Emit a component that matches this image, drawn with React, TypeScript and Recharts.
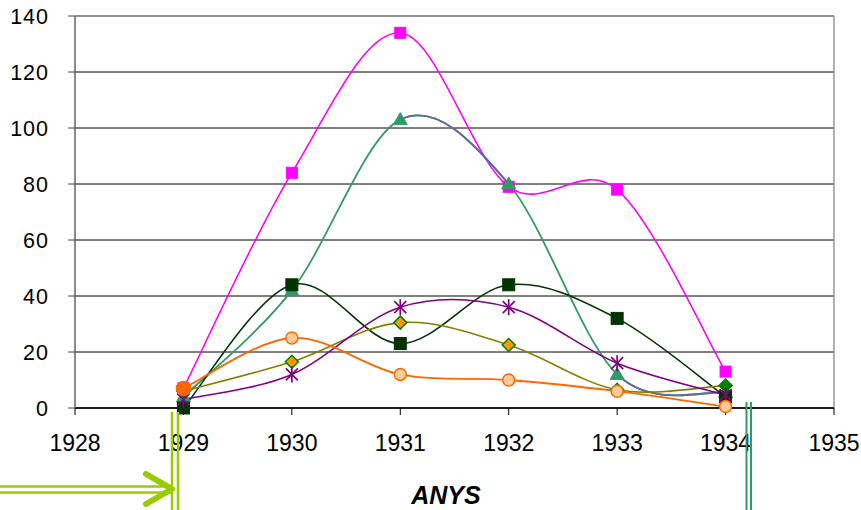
import React from 'react';
import { LineChart, Line, XAxis, YAxis, CartesianGrid, ReferenceLine } from 'recharts';

const years = [1929, 1930, 1931, 1932, 1933, 1934];
const magentaVals = [7, 84, 134, 79, 78, 13];
const tealVals = [4, 42, 103, 80, 12, 5.5];
const darkGreenVals = [0, 44, 23, 44, 32, 4];
const oliveVals = [6, 16.5, 30.5, 22.5, 6.5, 8];
const purpleVals = [3, 12, 36, 36, 16, 4.6];
const orangeVals = [7, 25, 12, 10, 6, 0.5];
const xTicks = [1928, 1929, 1930, 1931, 1932, 1933, 1934, 1935];
const yTicks = [0, 20, 40, 60, 80, 100, 120, 140];
const xAxisTitle = 'ANYS';

const data = years.map((year, i) => ({
  year,
  magenta: magentaVals[i],
  teal: tealVals[i],
  darkGreen: darkGreenVals[i],
  olive: oliveVals[i],
  purple: purpleVals[i],
  orange: orangeVals[i],
}));

// Excel-like smoothed line (Catmull-Rom as cubic Bezier), optionally drawing only some segments
const makeCurve = (segs?: number[]) => (context: any) => {
  let xs: number[] = [];
  let ys: number[] = [];
  return {
    areaStart() {},
    areaEnd() {},
    lineStart() {
      xs = [];
      ys = [];
    },
    point(x: number, y: number) {
      xs.push(+x);
      ys.push(+y);
    },
    lineEnd() {
      const n = xs.length;
      if (n === 0) return;
      if (n === 1) {
        context.moveTo(xs[0], ys[0]);
        return;
      }
      let penDown = false;
      for (let i = 0; i < n - 1; i++) {
        if (segs && !segs.includes(i)) {
          penDown = false;
          continue;
        }
        const p = Math.max(i - 1, 0);
        const q = Math.min(i + 2, n - 1);
        const c1x = xs[i] + (xs[i + 1] - xs[p]) / 6;
        const c1y = ys[i] + (ys[i + 1] - ys[p]) / 6;
        const c2x = xs[i + 1] - (xs[q] - xs[i]) / 6;
        const c2y = ys[i + 1] - (ys[q] - ys[i]) / 6;
        if (!penDown) {
          context.moveTo(xs[i], ys[i]);
          penDown = true;
        }
        context.bezierCurveTo(c1x, c1y, c2x, c2y, xs[i + 1], ys[i + 1]);
      }
    },
  };
};

const smooth = makeCurve();
const slateCurve = makeCurve([2, 4]);

const SquareDot = (color: string, size: number) => (props: any) => {
  const { cx, cy, index } = props;
  if (cx == null || cy == null) return <g key={`s-${index}`} />;
  return <rect key={`s-${index}`} x={cx - size / 2} y={cy - size / 2} width={size} height={size} fill={color} stroke={color} strokeWidth={1} />;
};

const TriangleDot = (props: any) => {
  const { cx, cy, index } = props;
  const h = 12;
  const w = 14;
  return (
    <polygon
      key={`t-${index}`}
      points={`${cx},${cy - h / 2 - 1} ${cx + w / 2},${cy + h / 2 - 1} ${cx - w / 2},${cy + h / 2 - 1}`}
      fill="#339966"
      stroke="#339966"
    />
  );
};

const DiamondDot = (props: any) => {
  const { cx, cy, index } = props;
  const r = 6.5;
  const last = index === years.length - 1;
  return (
    <polygon
      key={`d-${index}`}
      points={`${cx},${cy - r} ${cx + r},${cy} ${cx},${cy + r} ${cx - r},${cy}`}
      fill={last ? '#008000' : '#FF9900'}
      stroke="#008000"
      strokeWidth={1.5}
    />
  );
};

const StarDot = (props: any) => {
  const { cx, cy, index } = props;
  const r = 8;
  const d = r * 0.75;
  return (
    <g key={`a-${index}`} stroke="#800080" strokeWidth={1.7}>
      <line x1={cx - d} y1={cy - d} x2={cx + d} y2={cy + d} />
      <line x1={cx - d} y1={cy + d} x2={cx + d} y2={cy - d} />
      <line x1={cx} y1={cy - r} x2={cx} y2={cy + r} />
    </g>
  );
};

const CircleDot = (props: any) => {
  const { cx, cy, index } = props;
  const first = index === 0;
  return (
    <circle
      key={`c-${index}`}
      cx={cx}
      cy={cy}
      r={first ? 7 : 6}
      fill={first ? '#FF6600' : '#FFCC99'}
      stroke="#FF6600"
      strokeWidth={1.5}
    />
  );
};

const fontFamily = '"Liberation Sans", Arial, sans-serif';

export default function App() {
  return (
    <div style={{ position: 'absolute', left: 0, top: 0, width: 861, height: 510, background: '#fff' }}>
      <LineChart
        width={861}
        height={510}
        data={data}
        margin={{ top: 16, right: 27, bottom: 52, left: 0 }}
      >
        <CartesianGrid vertical={false} stroke="#000" strokeWidth={1} />
        <XAxis
          dataKey="year"
          type="number"
          domain={[1928, 1935]}
          ticks={xTicks}
          allowDataOverflow
          height={50}
          stroke="#000"
          tickSize={7}
          tickMargin={20}
          tick={{ fill: '#000', fontSize: 23, fontFamily }}
          tickLine={{ stroke: '#000' }}
          axisLine={{ stroke: '#000', strokeWidth: 1.5 }}
        />
        <YAxis
          type="number"
          domain={[0, 140]}
          ticks={yTicks}
          width={75}
          tickSize={7}
          tickMargin={19}
          tick={{ fill: '#000', fontSize: 21.5, fontFamily, letterSpacing: 1 }}
          tickLine={{ stroke: '#444' }}
          axisLine={{ stroke: '#666', strokeWidth: 1.5 }}
        />
        <ReferenceLine x={1935} stroke="#999" strokeWidth={1.5} />
        <ReferenceLine y={140} stroke="#999" strokeWidth={1.5} />
        <Line dataKey="magenta" type={smooth as any} stroke="#FF00FF" strokeWidth={1.6} dot={SquareDot('#FF00FF', 11)} isAnimationActive={false} />
        <Line dataKey="teal" type={smooth as any} stroke="#339966" strokeWidth={1.8} dot={TriangleDot} isAnimationActive={false} />
        <Line dataKey="teal" type={slateCurve as any} stroke="#666699" strokeWidth={1.8} dot={false} isAnimationActive={false} />
        <Line dataKey="darkGreen" type={smooth as any} stroke="#003300" strokeWidth={1.6} dot={SquareDot('#003300', 12)} isAnimationActive={false} />
        <Line dataKey="olive" type={smooth as any} stroke="#808000" strokeWidth={1.6} dot={DiamondDot} isAnimationActive={false} />
        <Line dataKey="purple" type={smooth as any} stroke="#800080" strokeWidth={1.6} dot={StarDot} isAnimationActive={false} />
        <Line dataKey="orange" type={smooth as any} stroke="#FF6600" strokeWidth={1.8} dot={CircleDot} isAnimationActive={false} />
      </LineChart>
      <svg
        width={861}
        height={510}
        style={{ position: 'absolute', left: 0, top: 0, pointerEvents: 'none' }}
      >
        <text
          x={446}
          y={504}
          textAnchor="middle"
          fontFamily={fontFamily}
          fontSize={25}
          fontWeight="bold"
          fontStyle="italic"
          fill="#000"
        >
          {xAxisTitle}
        </text>
        <g stroke="#99CC00" fill="none">
          <line x1={172} y1={412} x2={172} y2={510} strokeWidth={2.5} />
          <line x1={178} y1={412} x2={178} y2={510} strokeWidth={2.5} />
          <line x1={0} y1={486.5} x2={172} y2={486.5} strokeWidth={2.5} />
          <line x1={0} y1={492.5} x2={172} y2={492.5} strokeWidth={2.5} />
          <polyline points="146,474 172,489 146,504" strokeWidth={6} strokeLinecap="round" strokeLinejoin="round" />
        </g>
        <g stroke="#339966" fill="none">
          <line x1={746.5} y1={402} x2={746.5} y2={510} strokeWidth={2} />
          <line x1={751} y1={402} x2={751} y2={510} strokeWidth={2} />
        </g>
      </svg>
    </div>
  );
}
